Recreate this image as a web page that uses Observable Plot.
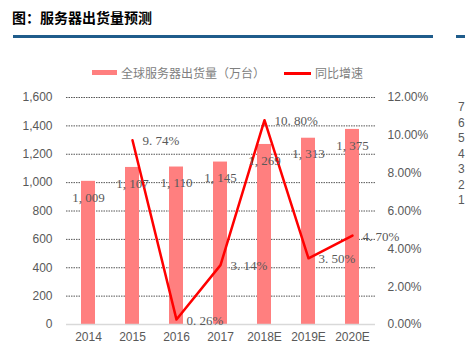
<!DOCTYPE html>
<html><head><meta charset="utf-8">
<script src="https://cdn.jsdelivr.net/npm/d3@7"></script>
<script src="https://cdn.jsdelivr.net/npm/@observablehq/plot@0.6"></script>
<style>
body{margin:0;background:#fff;}
#wrap{position:relative;width:465px;height:357px;overflow:hidden;font-family:"Noto Sans CJK SC",sans-serif;}
#title{position:absolute;left:12px;top:7px;font-size:14px;font-weight:bold;color:#000;}
.bl{position:absolute;top:35px;height:3px;background:#1f5c8b;}
#legend{position:absolute;top:64px;left:0;font-size:12px;color:#808080;}
.sw{position:absolute;}
.lt{position:absolute;top:0;white-space:nowrap;line-height:18px;}
#chart{position:absolute;left:0;top:0;}
#side{position:absolute;left:458px;top:100px;font-family:"Liberation Sans",Arial,sans-serif;font-size:12px;color:#595959;line-height:15.5px;}
</style></head>
<body><div id="wrap">
<div id="chart"></div>
<div id="title">图：服务器出货量预测</div>
<div class="bl" style="left:13px;width:420px"></div>
<div class="bl" style="left:456px;width:12px"></div>
<div id="legend">
  <div class="sw" style="left:92px;top:6px;width:25px;height:5px;background:#ff7f7f"></div>
  <div class="lt" style="left:121px">全球服务器出货量（万台）</div>
  <div class="sw" style="left:284px;top:8px;width:27px;height:2.5px;background:#ff0000"></div>
  <div class="lt" style="left:315px">同比增速</div>
</div>
<div id="side"></div>
</div>
<script>
const years = ["2014","2015","2016","2017","2018E","2019E","2020E"];
const shipments = [1009,1107,1110,1145,1269,1313,1375];
const growth = [null,9.74,0.26,3.14,10.80,3.50,4.70];
const leftTicks = [0,200,400,600,800,1000,1200,1400,1600];
const pctTicks = [0,2,4,6,8,10,12];
const sideLabels = ["7","6","5","4","3","2","1"];

document.getElementById("side").innerHTML = sideLabels.map(s=>"<div>"+s+"</div>").join("");

const k = 1600/12;
const rows = years.map((y,i)=>({year:y, ship:shipments[i], g:growth[i]}));
const gRows = rows.filter(d=>d.g!=null);
const fmtNum = d => d3.format(",")(d).replace(",", ", ");
const fmtPct = d => d.toFixed(2).replace(".", ". ") + "%";

const plot = Plot.plot({
  width:465, height:357,
  marginTop:97, marginBottom:33, marginLeft:66, marginRight:90,
  style:{fontFamily:"Liberation Sans, Arial, sans-serif", fontSize:"12px", color:"#595959", background:"transparent"},
  x:{domain:years, paddingInner:0.68, paddingOuter:0.34, label:null},
  y:{domain:[0,1600], label:null},
  marks:[
    Plot.ruleY(leftTicks.filter(d=>d>0), {stroke:"#555", strokeWidth:1, strokeDasharray:"1.5,1"}),
    Plot.barY(rows, {x:"year", y:"ship", fill:"#ff7f7f"}),
    Plot.ruleY([0], {stroke:"#d9d9d9", strokeWidth:1.5}),
    Plot.axisY(leftTicks, {anchor:"left", tickSize:0, tickPadding:14, tickFormat:d3.format(","), label:null, fill:"#595959"}),
    Plot.axisY(pctTicks.map(v=>v*k), {anchor:"right", tickSize:0, tickPadding:12, tickFormat:d=>(d/k).toFixed(2)+"%", label:null, fill:"#595959"}),
    Plot.axisX({tickSize:0, tickPadding:8, label:null, fill:"#595959"}),
    Plot.lineY(gRows, {x:"year", y:d=>d.g*k, stroke:"#ff0000", strokeWidth:2.5}),
    Plot.text(rows, {x:"year", y:"ship", text:d=>fmtNum(d.ship), dy:16, fill:"#595959", fontFamily:"Liberation Serif, serif", fontSize:13}),
    Plot.text(gRows, {x:"year", y:d=>d.g*k, text:d=>fmtPct(d.g), dx:10, dy:1, textAnchor:"start", fill:"#595959", fontFamily:"Liberation Serif, serif", fontSize:13})
  ]
});
document.getElementById("chart").appendChild(plot);
</script>
</body></html>
